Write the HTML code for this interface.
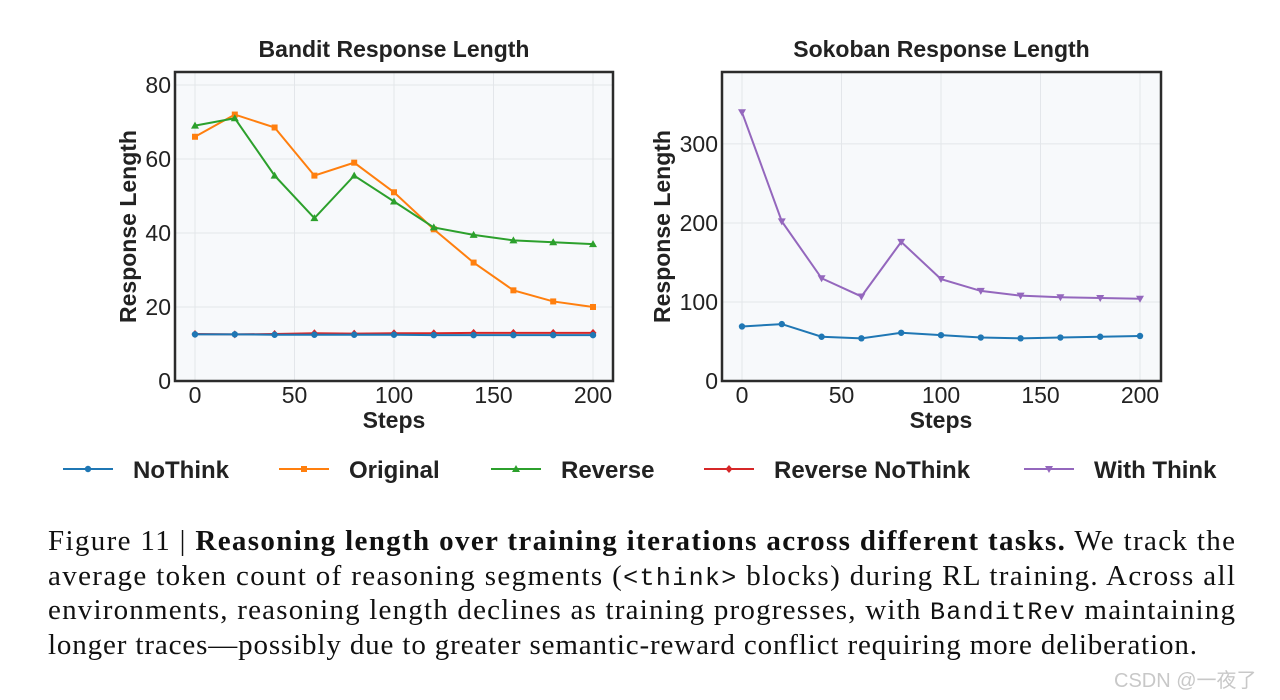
<!DOCTYPE html>
<html><head><meta charset="utf-8">
<style>
html,body{margin:0;padding:0;background:#fff;}
svg{display:block;}
.t{font-family:"Liberation Sans",sans-serif;}
.s{font-family:"Liberation Serif",serif;}
</style></head>
<body>
<svg id="fig" width="1280" height="700" viewBox="0 0 1280 700">
  <g id="left"></g>
  <g id="right"></g>
  <g id="legend"></g>
  <g class="s" font-size="29" fill="#111">
    <text x="48" y="550" textLength="1187" lengthAdjust="spacing">Figure 11 | <tspan font-weight="bold">Reasoning length over training iterations across different tasks.</tspan>  We track the</text>
    <text x="48" y="585" textLength="1187" lengthAdjust="spacing">average token count of reasoning segments (<tspan font-family="Liberation Mono, monospace" font-size="25">&lt;think&gt;</tspan> blocks) during RL training. Across all</text>
    <text x="48" y="619" textLength="1187" lengthAdjust="spacing">environments, reasoning length declines as training progresses, with <tspan font-family="Liberation Mono, monospace" font-size="25">BanditRev</tspan> maintaining</text>
    <text x="48" y="654" textLength="1149" lengthAdjust="spacing">longer traces—possibly due to greater semantic-reward conflict requiring more deliberation.</text>
  </g>
  <text x="1114" y="687" font-size="20" fill="#c8c8c8" font-family="Liberation Sans, Noto Sans CJK SC, sans-serif">CSDN @一夜了</text>
</svg>
<script>
const steps = [0,20,40,60,80,100,120,140,160,180,200];
const banditOriginal = [66,72,68.5,55.5,59,51,41,32,24.5,21.5,20];
const banditReverse = [69,71,55.5,44,55.5,48.5,41.5,39.5,38,37.5,37];
const banditNoThink = [12.6,12.6,12.5,12.5,12.5,12.5,12.4,12.4,12.4,12.4,12.4];
const banditRevNoThink = [12.7,12.6,12.7,12.9,12.8,12.9,12.9,13,13,13,13];
const sokobanWithThink = [340,202,130,107,176,129,114,108,106,105,104];
const sokobanNoThink = [69,72,56,54,61,58,55,54,55,56,57];
const leftYTicks = [0,20,40,60,80];
const rightYTicks = [0,100,200,300];
const xTicks = [0,50,100,150,200];

const NS = "http://www.w3.org/2000/svg";
function mk(parent, tag, attrs, text){
  const e = document.createElementNS(NS, tag);
  for (const k in attrs) e.setAttribute(k, attrs[k]);
  if (text !== undefined) e.textContent = text;
  parent.appendChild(e); return e;
}
const colors = {nothink:"#1f77b4", orig:"#ff7f0e", rev:"#2ca02c", revno:"#d62728", wt:"#9467bd"};

function marker(g, type, x, y, c){
  let m;
  if (type==="circle") m = mk(g,"circle",{cx:x,cy:y,r:3.2,fill:c});
  else if (type==="square") m = mk(g,"rect",{x:x-3,y:y-3,width:6,height:6,fill:c});
  else if (type==="tri") m = mk(g,"polygon",{points:`${x},${y-4} ${x-4},${y+3} ${x+4},${y+3}`,fill:c});
  else if (type==="tridown") m = mk(g,"polygon",{points:`${x},${y+4} ${x-4},${y-3} ${x+4},${y-3}`,fill:c});
  else m = mk(g,"polygon",{points:`${x},${y-4} ${x+3.5},${y} ${x},${y+4} ${x-3.5},${y}`,fill:c});
  return m;
}

function chart(g, cfg){
  const {L,R,T,B,x0,x1,yMax,yTicks,title,series,yTitleOff} = cfg;
  const sx = v => x0 + (x1-x0)*v/200;
  const sy = v => B - (B-T)*v/yMax;
  const bg = mk(g,"rect",{x:L,y:T,width:R-L,height:B-T,fill:"#f7f9fb"});
  
  
  xTicks.forEach(v=>{
    mk(g,"line",{x1:sx(v),x2:sx(v),y1:T,y2:B,stroke:"#e3e6ea","stroke-width":1});
    const t = mk(g,"text",{x:sx(v),y:B+22,"text-anchor":"middle","font-size":23,fill:"#222",class:"t"},String(v));
    
    
  });
  yTicks.forEach(v=>{
    mk(g,"line",{x1:L,x2:R,y1:sy(v),y2:sy(v),stroke:"#e3e6ea","stroke-width":1});
    const t = mk(g,"text",{x:L-4,y:sy(v)+8,"text-anchor":"end","font-size":23,fill:"#222",class:"t"},String(v));
    
    
  });
  series.forEach(s=>{
    const sg = mk(g,"g",{});
    
    
    const pts = s.data.map((v,i)=>`${sx(steps[i])},${sy(v)}`).join(" ");
    mk(sg,"polyline",{points:pts,fill:"none",stroke:s.c,"stroke-width":2});
    s.data.forEach((v,i)=>{
      const m = marker(sg,s.m,sx(steps[i]),sy(v),s.c);
      
      
    });
  });
  mk(g,"rect",{x:L,y:T,width:R-L,height:B-T,fill:"none",stroke:"#2b2b2b","stroke-width":2.5});
  const tt = mk(g,"text",{x:(L+R)/2,y:T-15,"text-anchor":"middle","font-size":23,"font-weight":"bold",fill:"#222",class:"t"},title);
  
  
  const xt = mk(g,"text",{x:(x0+x1)/2,y:B+47,"text-anchor":"middle","font-size":23,"font-weight":"bold",fill:"#222",class:"t"},"Steps");
  
  
  const yt = mk(g,"text",{x:0,y:0,transform:`translate(${L-yTitleOff},${(T+B)/2}) rotate(-90)`,"text-anchor":"middle","font-size":23,"font-weight":"bold",fill:"#222",class:"t"},"Response Length");
  
  
}

chart(document.getElementById("left"),{L:175,R:613,T:72,B:381,x0:195,x1:593,yMax:83.5,yTicks:leftYTicks,title:"Bandit Response Length",yTitleOff:39,
  series:[
    {name:"original",data:banditOriginal,c:colors.orig,m:"square"},
    {name:"reverse",data:banditReverse,c:colors.rev,m:"tri"},
    {name:"reverse-nothink",data:banditRevNoThink,c:colors.revno,m:"diamond"},
    {name:"nothink",data:banditNoThink,c:colors.nothink,m:"circle"}
  ]});
chart(document.getElementById("right"),{L:722,R:1161,T:72,B:381,x0:742,x1:1140,yMax:391,yTicks:rightYTicks,title:"Sokoban Response Length",yTitleOff:52,
  series:[
    {name:"with-think",data:sokobanWithThink,c:colors.wt,m:"tridown"},
    {name:"nothink",data:sokobanNoThink,c:colors.nothink,m:"circle"}
  ]});

const legendItems = [
  {label:"NoThink",c:colors.nothink,m:"circle",x:63},
  {label:"Original",c:colors.orig,m:"square",x:279},
  {label:"Reverse",c:colors.rev,m:"tri",x:491},
  {label:"Reverse NoThink",c:colors.revno,m:"diamond",x:704},
  {label:"With Think",c:colors.wt,m:"tridown",x:1024}
];
const lg = document.getElementById("legend");
legendItems.forEach(it=>{
  const g = mk(lg,"g",{});
  
  
  mk(g,"line",{x1:it.x,x2:it.x+50,y1:469,y2:469,stroke:it.c,"stroke-width":2});
  marker(g,it.m,it.x+25,469,it.c);
  mk(g,"text",{x:it.x+70,y:478,"font-size":24,"font-weight":"bold",fill:"#222",class:"t"},it.label);
});
</script>
</body></html>
